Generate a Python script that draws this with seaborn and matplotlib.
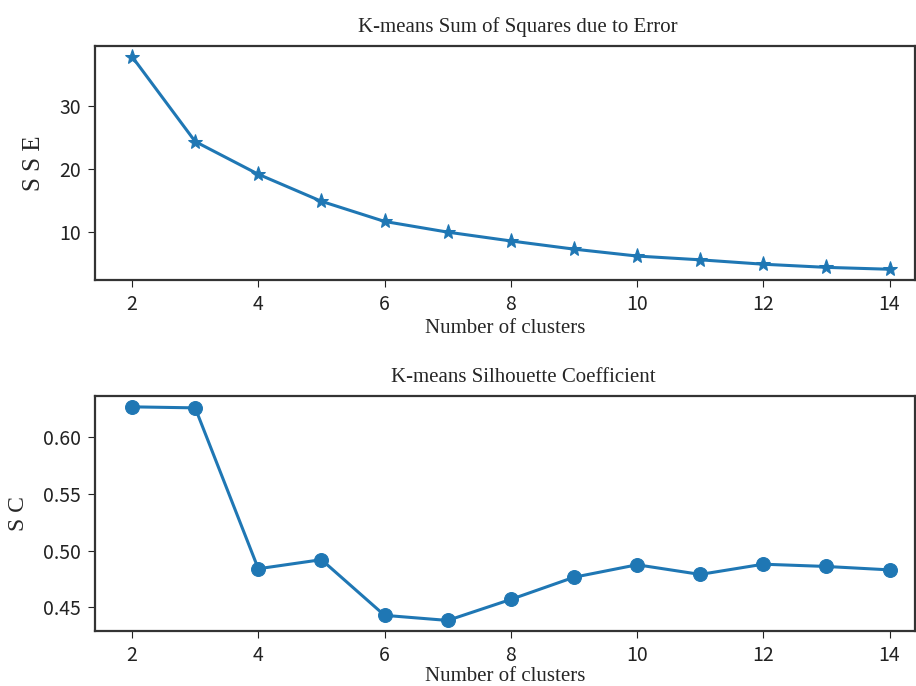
import matplotlib
matplotlib.use("Agg")
import matplotlib.pyplot as plt
import seaborn as sns
import pandas as pd

clusters = [2, 3, 4, 5, 6, 7, 8, 9, 10, 11, 12, 13, 14]
sse = [37.9, 24.4, 19.2, 14.9, 11.7, 10.0, 8.6, 7.3, 6.2, 5.6, 4.9, 4.4, 4.1]
sc = [0.6265, 0.6256, 0.484, 0.492, 0.443, 0.4385, 0.457, 0.4765, 0.4875, 0.479, 0.488, 0.486, 0.483]

df = pd.DataFrame({"k": clusters, "sse": sse, "sc": sc})

sns.set_style("ticks")
plt.rcParams['font.family'] = ['Noto Sans CJK SC', 'DejaVu Sans']

fig = plt.figure(figsize=(9.16, 6.86), dpi=100)
ax1 = fig.add_axes([0.1037, 0.592, 0.895, 0.341])
ax2 = fig.add_axes([0.1037, 0.080, 0.895, 0.3425])

color = "#1f77b4"
serif = "Liberation Serif"

sns.lineplot(data=df, x="k", y="sse", ax=ax1, color=color, marker="*",
             markersize=11, markeredgecolor=color, linewidth=2.2)
sns.lineplot(data=df, x="k", y="sc", ax=ax2, color=color, marker="o",
             markersize=10, markeredgecolor=color, linewidth=2.2)

ax1.set_title("K-means Sum of Squares due to Error", family=serif, fontsize=15, pad=10, x=0.516)
ax1.set_xlabel("Number of clusters", family=serif, fontsize=15, labelpad=3)
ax1.set_ylabel("S S E", family=serif, fontsize=18, labelpad=10)
ax1.set_yticks([10, 20, 30])

ax2.set_title("K-means Silhouette Coefficient", family=serif, fontsize=15, pad=10, x=0.522)
ax2.set_xlabel("Number of clusters", family=serif, fontsize=15, labelpad=1)
ax2.set_ylabel("S C", family=serif, fontsize=17, labelpad=10)
ax2.set_yticks([0.45, 0.50, 0.55, 0.60])
ax2.set_yticklabels(["0.45", "0.50", "0.55", "0.60"])

for ax in (ax1, ax2):
    ax.set_xlim(1.413, 14.40)
    ax.set_xticks([2, 4, 6, 8, 10, 12, 14])
    ax.tick_params(labelsize=14, colors="#222222", length=5, pad=5)
    for s in ax.spines.values():
        s.set_visible(True)
        s.set_color("#333333")
        s.set_linewidth(1.6)

fig.savefig("out.png", dpi=100)
